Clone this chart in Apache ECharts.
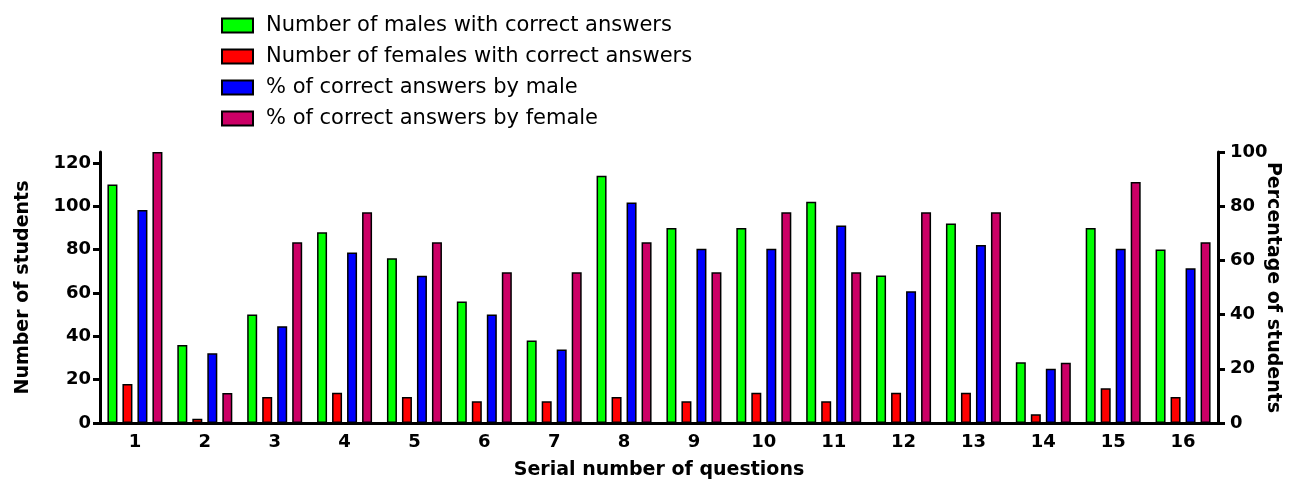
<!DOCTYPE html>
<html>
<head>
<meta charset="utf-8">
<script src="https://cdn.jsdelivr.net/npm/echarts@6/dist/echarts.min.js"></script>
<style>
  html, body { margin: 0; padding: 0; background: #fff; }
  #chart { width: 1293px; height: 485px; }
</style>
</head>
<body>
<div id="chart"></div>
<script>
var questions = ['1', '2', '3', '4', '5', '6', '7', '8', '9', '10', '11', '12', '13', '14', '15', '16'];
var malesCorrect = [110, 36, 50, 88, 76, 56, 38, 114, 90, 90, 102, 68, 92, 28, 90, 80];
var femalesCorrect = [18, 2, 12, 14, 12, 10, 10, 12, 10, 14, 10, 14, 14, 4, 16, 12];
var pctMale = [78.6, 25.7, 35.7, 62.9, 54.3, 40, 27.1, 81.4, 64.3, 64.3, 72.9, 48.6, 65.7, 20, 64.3, 57.1];
var pctFemale = [100, 11.1, 66.7, 77.8, 66.7, 55.6, 55.6, 66.7, 55.6, 77.8, 55.6, 77.8, 77.8, 22.2, 88.9, 66.7];
var leftTicks = [0, 20, 40, 60, 80, 100, 120];
var rightTicks = [0, 20, 40, 60, 80, 100];

var font = 'DejaVu Sans';
var myChart = echarts.init(document.getElementById('chart'));

function barSeries(name, data, color, yIdx) {
  return {
    name: name,
    type: 'bar',
    yAxisIndex: yIdx,
    data: data,
    barWidth: 10,
    barGap: '50%',
    itemStyle: { color: color, borderColor: '#000', borderWidth: 1.5 }
  };
}

myChart.setOption({
  animation: false,
  textStyle: { fontFamily: font },
  legend: {
    orient: 'vertical',
    left: 216,
    top: 10,
    icon: 'rect',
    itemWidth: 31,
    itemHeight: 14,
    itemGap: 10,
    textStyle: { fontFamily: font, fontSize: 21, color: '#000', padding: [0, 0, 0, 8] }
  },
  grid: { left: 100, right: 75, top: 152, bottom: 62, outerBoundsMode: 'none' },
  xAxis: {
    type: 'category',
    data: questions,
    name: 'Serial number of questions',
    nameLocation: 'middle',
    nameGap: 38,
    nameMoveOverlap: false,
    nameTextStyle: { fontFamily: font, fontSize: 19, fontWeight: 'bold', color: '#000' },
    axisLine: { lineStyle: { color: '#000', width: 3 } },
    axisTick: { alignWithLabel: true, length: 7, lineStyle: { color: '#000', width: 3 } },
    axisLabel: { fontFamily: font, fontSize: 18, fontWeight: 'bold', color: '#000', margin: 10 }
  },
  yAxis: [
    {
      type: 'value',
      min: 0,
      max: 125,
      name: 'Number of students',
      nameLocation: 'middle',
      nameGap: 67,
      nameRotate: 90,
      nameMoveOverlap: false,
      nameTextStyle: { fontFamily: font, fontSize: 19, fontWeight: 'bold', color: '#000' },
      splitLine: { show: false },
      axisLine: { show: true, lineStyle: { color: '#000', width: 3 } },
      axisTick: { show: true, length: 7, customValues: leftTicks, lineStyle: { color: '#000', width: 3 } },
      axisLabel: { customValues: leftTicks, fontFamily: font, fontSize: 18, fontWeight: 'bold', color: '#000', margin: 9 }
    },
    {
      type: 'value',
      min: 0,
      max: 100,
      interval: 20,
      position: 'right',
      name: 'Percentage of students',
      nameLocation: 'middle',
      nameGap: 45,
      nameRotate: -90,
      nameMoveOverlap: false,
      nameTextStyle: { fontFamily: font, fontSize: 19, fontWeight: 'bold', color: '#000' },
      splitLine: { show: false },
      axisLine: { show: true, lineStyle: { color: '#000', width: 3 } },
      axisTick: { show: true, length: 7, customValues: rightTicks, lineStyle: { color: '#000', width: 3 } },
      axisLabel: { customValues: rightTicks, fontFamily: font, fontSize: 18, fontWeight: 'bold', color: '#000', margin: 12 }
    }
  ],
  series: [
    barSeries('Number of males with correct answers', malesCorrect, '#00ff00', 0),
    barSeries('Number of females with correct answers', femalesCorrect, '#ff0000', 0),
    barSeries('% of correct answers by male', pctMale, '#0000ff', 1),
    barSeries('% of correct answers by female', pctFemale, '#cc0066', 1)
  ]
});
</script>
</body>
</html>
